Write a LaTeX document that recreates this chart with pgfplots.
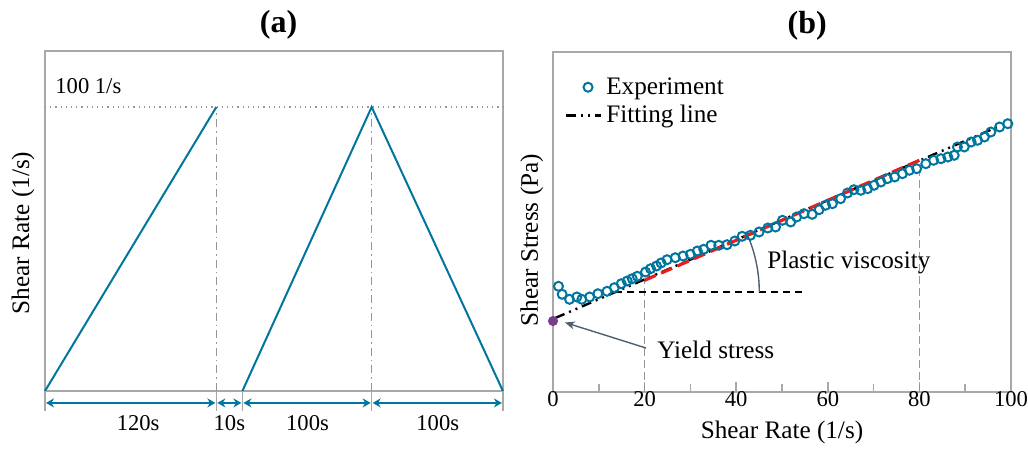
\documentclass[border=0pt]{standalone}
\usepackage{fontspec}
\setmainfont{Liberation Serif}
\usepackage{pgfplots}
\pgfplotsset{compat=1.18}
\usetikzlibrary{arrows.meta}

\definecolor{tealc}{RGB}{0,118,158}
\definecolor{framegray}{RGB}{168,168,168}
\definecolor{linegray}{RGB}{150,150,150}
\definecolor{yieldc}{RGB}{120,60,140}
\definecolor{notec}{RGB}{80,95,112}
\definecolor{fitred}{RGB}{232,30,30}

\newcommand{\labfont}{\fontsize{12.6}{14}\selectfont}
\newcommand{\tickfont}{\fontsize{11.3}{13}\selectfont}

\pgfplotsset{
    lineleg/.style={legend image code/.code={\draw[##1] (0pt,0pt) -- (17.5pt,0pt);}},
    markleg/.style={legend image code/.code={\draw[##1] plot coordinates {(11pt,0pt)};}},
}

\begin{document}
\begin{tikzpicture}
\path[use as bounding box] (0,0) rectangle (514pt,224.5pt);

% (a) shear rate programme
\begin{axis}[
    at={(22.5pt,29pt)}, anchor=south west,
    scale only axis, width=228.5pt, height=170pt,
    xmin=0, xmax=457, ymin=0, ymax=119.72,
    axis line style={framegray, line width=1pt},
    ticks=none, clip=false,
    ylabel={Shear Rate (1/s)},
    ylabel style={at={(axis description cs:-0.048,0.465)}, anchor=center, font=\labfont},
]
\addplot[linegray, line width=0.6pt, dotted] coordinates {(0,100) (457,100)};
\addplot[linegray, line width=0.6pt, dash pattern=on 4pt off 2pt on 0.8pt off 2pt] coordinates {(171,0) (171,100)};
\addplot[linegray, line width=0.6pt, dash pattern=on 4pt off 2pt on 0.8pt off 2pt] coordinates {(326,0) (326,100)};
\addplot[tealc, line width=1pt] coordinates {(0,0) (171,100)};
\addplot[tealc, line width=1pt] coordinates {(197,0) (326,100) (457,0)};

\draw[framegray, line width=0.8pt] (axis cs:0,0) -- (axis cs:0,-7);
\draw[framegray, line width=0.8pt] (axis cs:171,0) -- (axis cs:171,-7);
\draw[framegray, line width=0.8pt] (axis cs:197,0) -- (axis cs:197,-7);
\draw[framegray, line width=0.8pt] (axis cs:326,0) -- (axis cs:326,-7);
\draw[framegray, line width=0.8pt] (axis cs:457,0) -- (axis cs:457,-7);
\draw[tealc, line width=0.8pt, {Stealth[length=4pt,width=4.5pt]}-{Stealth[length=4pt,width=4.5pt]}] (axis cs:1,-4.2) -- (axis cs:170,-4.2);
\draw[tealc, line width=0.8pt, {Stealth[length=4pt,width=4.5pt]}-{Stealth[length=4pt,width=4.5pt]}] (axis cs:172,-4.2) -- (axis cs:196,-4.2);
\draw[tealc, line width=0.8pt, {Stealth[length=4pt,width=4.5pt]}-{Stealth[length=4pt,width=4.5pt]}] (axis cs:198,-4.2) -- (axis cs:325,-4.2);
\draw[tealc, line width=0.8pt, {Stealth[length=4pt,width=4.5pt]}-{Stealth[length=4pt,width=4.5pt]}] (axis cs:327,-4.2) -- (axis cs:456,-4.2);

\node[font=\tickfont] at (axis cs:93,-11.3) {120s};
\node[font=\tickfont] at (axis cs:184,-11.3) {10s};
\node[font=\tickfont] at (axis cs:262,-11.3) {100s};
\node[font=\tickfont] at (axis cs:392,-11.3) {100s};
\node[font=\tickfont, anchor=west, inner sep=0pt] at (axis cs:10,107.4) {100 1/s};
\node[font=\bfseries\fontsize{16}{18}\selectfont] at (axis description cs:0.51,1.076) {(a)};
\end{axis}

% (b) flow curve
\begin{axis}[
    at={(276.5pt,28.5pt)}, anchor=south west,
    scale only axis, width=229pt, height=170pt,
    xmin=0, xmax=100, ymin=0, ymax=340,
    axis line style={framegray, line width=1pt},
    xtick={0,20,...,100}, minor xtick={10,30,...,90}, ytick=\empty,
    xtick pos=bottom, tick align=inside,
    major tick length=5pt, minor tick length=4pt,
    every tick/.style={framegray, line width=0.8pt},
    /pgf/number format/assume math mode=true,
    xticklabel style={font=\tickfont, anchor=center, yshift=-3.5pt},
    clip=false,
    xlabel={Shear Rate (1/s)},
    xlabel style={at={(axis description cs:0.5,-0.12)}, anchor=center, font=\labfont},
    ylabel={Shear Stress (Pa)},
    ylabel style={at={(axis description cs:-0.046,0.447)}, anchor=center, font=\labfont},
    legend style={at={(axis cs:2.5,319)}, anchor=north west, draw=none, fill=none,
        inner sep=0pt, row sep=0pt, font=\labfont},
    legend cell align=left,
    lineleg,
]
\addplot[linegray, line width=0.8pt, dash pattern=on 4pt off 2pt, forget plot] coordinates {(20,0) (20,111)};
\addplot[linegray, line width=0.8pt, dash pattern=on 4pt off 2pt, forget plot] coordinates {(80,0) (80,222)};
\addplot[black, line width=1.1pt, dash pattern=on 3.5pt off 2.5pt, forget plot] coordinates {(13.6,100) (55.5,100)};

\addplot[only marks, mark=o, mark size=2.25pt, mark options={tealc, line width=1pt}, markleg]
coordinates {
(1.2,105.7) (2.0,97.7) (3.6,92.7) (5.2,95.0) (6.3,92.7) (8.0,95.0) (9.8,98.3)
(11.8,100.7) (13.4,104.3) (14.9,108.3) (16.2,111.0) (17.3,113.3) (18.4,115.7)
(20.2,120.0) (21.3,123.3) (22.6,126.0) (23.6,129.0) (24.9,132.3) (26.7,134.3)
(28.4,136.0) (30.0,137.7) (31.5,141.0) (32.9,142.7) (34.5,146.7) (36.2,146.7)
(38.0,147.3) (39.7,151.0) (41.3,155.7) (43.1,156.7) (45.0,160.0) (46.9,164.0)
(48.6,165.0) (50.1,171.7) (51.9,170.0) (53.2,175.0) (54.8,178.3) (56.6,177.7)
(58.1,182.3) (59.5,186.7) (61.0,188.3) (62.8,193.3) (64.3,199.0) (65.7,202.3)
(67.2,201.7) (68.7,203.3) (70.1,206.7) (71.6,210.0) (73.0,213.3) (74.6,215.0)
(76.3,218.3) (77.8,221.7) (79.4,223.3) (81.4,228.3) (83.1,231.7) (84.7,233.3)
(86.2,235.0) (87.6,236.7) (88.3,245.0) (89.8,245.0) (91.3,250.0) (92.7,251.7)
(94.2,255.0) (95.6,260.0) (97.5,265.0) (99.3,268.3)
};
\addlegendentry{Experiment}
\addplot[black, line width=1.2pt, dash pattern=on 5pt off 2.5pt on 1pt off 2.5pt on 1pt off 2.5pt]
    coordinates {(0.5,74) (97,265)};
\addlegendentry{Fitting line}
\addplot[fitred, line width=1.6pt, dash pattern=on 6pt off 3pt, forget plot] coordinates {(20,111.7) (80,231.7)};
\addplot[only marks, mark=*, mark size=2.3pt, mark options={yieldc}, forget plot] coordinates {(0,71)};

\draw[notec, line width=0.7pt, -{Stealth[length=5pt,width=4pt]}] (axis cs:20.3,44) -- (axis cs:2.6,69.5);
\draw[notec, line width=0.7pt] (axis cs:13.6,100) ++(0:72pt) arc[start angle=0, end angle=23.4, radius=72pt];
\node[font=\labfont, anchor=west, inner sep=0pt] at (axis cs:22.7,42) {Yield stress};
\node[font=\labfont, anchor=west, inner sep=0pt] at (axis cs:46.7,130) {Plastic viscosity};
\node[font=\bfseries\fontsize{16}{18}\selectfont] at (axis description cs:0.555,1.076) {(b)};
\end{axis}
\end{tikzpicture}
\end{document}
